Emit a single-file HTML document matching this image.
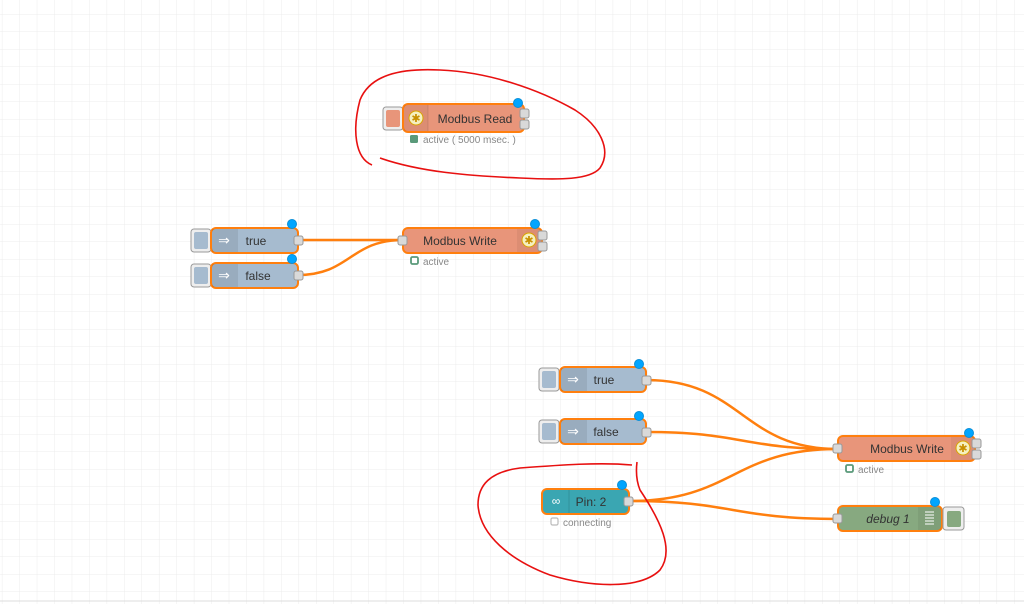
<!DOCTYPE html>
<html><head><meta charset="utf-8"><style>
html,body{margin:0;padding:0;background:#fff;}
svg text{font-family:"Liberation Sans",sans-serif;}
</style></head><body>
<svg width="1024" height="604" xmlns="http://www.w3.org/2000/svg">
<defs>
<pattern id="g" x="1.9" y="14" width="17.45" height="17.5" patternUnits="userSpaceOnUse">
<path d="M0 0H17.45M0 0V17.5" stroke="#ececec" stroke-width="1" fill="none"/>
</pattern>
</defs>
<rect width="1024" height="604" fill="url(#g)"/>
<line x1="0" y1="601" x2="1024" y2="601" stroke="#ddd"/>

<!-- wires -->
<g stroke="#ff7f0e" stroke-width="2.5" fill="none">
<path d="M298 240 C350 240 350 240 403 240"/>
<path d="M298 275 C350 275 350 240 403 240"/>
<path d="M646 380 C742 380 742 449 838 449"/>
<path d="M646 432 C742 432 742 449 838 449"/>
<path d="M629 501 C733 501 733 449 838 449"/>
<path d="M629 501 C733 501 733 519 838 519"/>
</g>

<!-- Modbus Read -->
<rect x="383" y="107" width="20" height="23" rx="3" fill="#eee" stroke="#999"/>
<rect x="386" y="110" width="14" height="17" rx="2" fill="#e8957a"/>
<rect x="403" y="104" width="121" height="28" rx="5" fill="#e8957a" stroke="#ff7f0e" stroke-width="2"/>
<rect x="404" y="105" width="24" height="26" fill="#000" fill-opacity="0.05"/>
<line x1="428" y1="105" x2="428" y2="131" stroke="#000" stroke-opacity="0.1"/>
<circle cx="416" cy="118" r="7" fill="#f5f0c0" stroke="#d9a400"/><text x="416" y="122" font-size="11" text-anchor="middle" fill="#c89000">✱</text>
<text x="475" y="123" font-size="12" text-anchor="middle" fill="#333">Modbus Read</text>
<rect x="520" y="109" width="9" height="9" rx="2" fill="#d9d9d9" stroke="#999"/>
<rect x="520" y="120" width="9" height="9" rx="2" fill="#d9d9d9" stroke="#999"/>
<circle cx="518" cy="103" r="4.5" fill="#00a5ff" stroke="#0a8fd8"/>
<rect x="410" y="135" width="8" height="8" rx="1.5" fill="#5a9a7a"/>
<text x="423" y="143" font-size="10" fill="#888">active ( 5000 msec. )</text>

<!-- inject true / false left -->
<g>
<rect x="191" y="229" width="20" height="23" rx="3" fill="#eee" stroke="#999"/>
<rect x="194" y="232" width="14" height="17" rx="2" fill="#a6bbcf"/>
<rect x="211" y="228" width="87" height="25" rx="5" fill="#a6bbcf" stroke="#ff7f0e" stroke-width="2"/>
<rect x="212" y="229" width="26" height="23" fill="#000" fill-opacity="0.08"/>
<text x="224" y="245" font-size="14" text-anchor="middle" fill="#fff">⇒</text>
<text x="256" y="245" font-size="12" text-anchor="middle" fill="#333">true</text>
<rect x="294" y="236" width="9" height="9" rx="2" fill="#d9d9d9" stroke="#999"/>
<circle cx="292" cy="224" r="4.5" fill="#00a5ff" stroke="#0a8fd8"/>

<rect x="191" y="264" width="20" height="23" rx="3" fill="#eee" stroke="#999"/>
<rect x="194" y="267" width="14" height="17" rx="2" fill="#a6bbcf"/>
<rect x="211" y="263" width="87" height="25" rx="5" fill="#a6bbcf" stroke="#ff7f0e" stroke-width="2"/>
<rect x="212" y="264" width="26" height="23" fill="#000" fill-opacity="0.08"/>
<text x="224" y="280" font-size="14" text-anchor="middle" fill="#fff">⇒</text>
<text x="258" y="280" font-size="12" text-anchor="middle" fill="#333">false</text>
<rect x="294" y="271" width="9" height="9" rx="2" fill="#d9d9d9" stroke="#999"/>
<circle cx="292" cy="259" r="4.5" fill="#00a5ff" stroke="#0a8fd8"/>
</g>

<!-- Modbus Write 1 -->
<rect x="403" y="228" width="139" height="25" rx="5" fill="#e8957a" stroke="#ff7f0e" stroke-width="2"/>
<rect x="517" y="229" width="24" height="23" fill="#000" fill-opacity="0.05"/>
<circle cx="529" cy="240" r="7" fill="#f5f0c0" stroke="#d9a400"/><text x="529" y="244" font-size="11" text-anchor="middle" fill="#c89000">✱</text>
<text x="460" y="245" font-size="12" text-anchor="middle" fill="#333">Modbus Write</text>
<rect x="398" y="236" width="9" height="9" rx="2" fill="#d9d9d9" stroke="#999"/>
<rect x="538" y="231" width="9" height="9" rx="2" fill="#d9d9d9" stroke="#999"/>
<rect x="538" y="242" width="9" height="9" rx="2" fill="#d9d9d9" stroke="#999"/>
<circle cx="535" cy="224" r="4.5" fill="#00a5ff" stroke="#0a8fd8"/>
<rect x="411" y="257" width="7" height="7" rx="1.5" fill="#fff" stroke="#5a9a7a" stroke-width="1.8"/>
<text x="423" y="265" font-size="10" fill="#888">active</text>

<!-- inject true / false right -->
<rect x="539" y="368" width="20" height="23" rx="3" fill="#eee" stroke="#999"/>
<rect x="542" y="371" width="14" height="17" rx="2" fill="#a6bbcf"/>
<rect x="560" y="367" width="86" height="25" rx="5" fill="#a6bbcf" stroke="#ff7f0e" stroke-width="2"/>
<rect x="561" y="368" width="26" height="23" fill="#000" fill-opacity="0.08"/>
<text x="573" y="384" font-size="14" text-anchor="middle" fill="#fff">⇒</text>
<text x="604" y="384" font-size="12" text-anchor="middle" fill="#333">true</text>
<rect x="642" y="376" width="9" height="9" rx="2" fill="#d9d9d9" stroke="#999"/>
<circle cx="639" cy="364" r="4.5" fill="#00a5ff" stroke="#0a8fd8"/>

<rect x="539" y="420" width="20" height="23" rx="3" fill="#eee" stroke="#999"/>
<rect x="542" y="423" width="14" height="17" rx="2" fill="#a6bbcf"/>
<rect x="560" y="419" width="86" height="25" rx="5" fill="#a6bbcf" stroke="#ff7f0e" stroke-width="2"/>
<rect x="561" y="420" width="26" height="23" fill="#000" fill-opacity="0.08"/>
<text x="573" y="436" font-size="14" text-anchor="middle" fill="#fff">⇒</text>
<text x="606" y="436" font-size="12" text-anchor="middle" fill="#333">false</text>
<rect x="642" y="428" width="9" height="9" rx="2" fill="#d9d9d9" stroke="#999"/>
<circle cx="639" cy="416" r="4.5" fill="#00a5ff" stroke="#0a8fd8"/>

<!-- Modbus Write 2 -->
<rect x="838" y="436" width="137" height="25" rx="5" fill="#e8957a" stroke="#ff7f0e" stroke-width="2"/>
<rect x="951" y="437" width="23" height="23" fill="#000" fill-opacity="0.05"/>
<circle cx="963" cy="448" r="7" fill="#f5f0c0" stroke="#d9a400"/><text x="963" y="452" font-size="11" text-anchor="middle" fill="#c89000">✱</text>
<text x="907" y="453" font-size="12" text-anchor="middle" fill="#333">Modbus Write</text>
<rect x="833" y="444" width="9" height="9" rx="2" fill="#d9d9d9" stroke="#999"/>
<rect x="972" y="439" width="9" height="9" rx="2" fill="#d9d9d9" stroke="#999"/>
<rect x="972" y="450" width="9" height="9" rx="2" fill="#d9d9d9" stroke="#999"/>
<circle cx="969" cy="433" r="4.5" fill="#00a5ff" stroke="#0a8fd8"/>
<rect x="846" y="465" width="7" height="7" rx="1.5" fill="#fff" stroke="#5a9a7a" stroke-width="1.8"/>
<text x="858" y="473" font-size="10" fill="#888">active</text>

<!-- Pin: 2 -->
<rect x="542" y="489" width="87" height="25" rx="5" fill="#3aa6b2" stroke="#ff7f0e" stroke-width="2"/>
<line x1="569" y1="490" x2="569" y2="513" stroke="#000" stroke-opacity="0.12"/>
<text x="556" y="505" font-size="12" text-anchor="middle" fill="#fff">∞</text>
<text x="591" y="506" font-size="12" text-anchor="middle" fill="#333">Pin: 2</text>
<rect x="624" y="497" width="9" height="9" rx="2" fill="#d9d9d9" stroke="#999"/>
<circle cx="622" cy="485" r="4.5" fill="#00a5ff" stroke="#0a8fd8"/>
<rect x="551" y="518" width="7" height="7" rx="1.5" fill="#fff" stroke="#bbb" stroke-width="1.2"/>
<text x="563" y="526" font-size="10" fill="#888">connecting</text>

<!-- debug 1 -->
<rect x="838" y="506" width="104" height="25" rx="5" fill="#87a980" stroke="#ff7f0e" stroke-width="2"/>
<rect x="918" y="507" width="23" height="23" fill="#000" fill-opacity="0.06"/>
<g stroke="#fff" stroke-width="1"><line x1="925" y1="512" x2="934" y2="512"/><line x1="925" y1="515" x2="934" y2="515"/><line x1="925" y1="518" x2="934" y2="518"/><line x1="925" y1="521" x2="934" y2="521"/><line x1="925" y1="524" x2="934" y2="524"/></g>
<text x="888" y="523" font-size="12" font-style="italic" text-anchor="middle" fill="#333">debug 1</text>
<rect x="833" y="514" width="9" height="9" rx="2" fill="#d9d9d9" stroke="#999"/>
<rect x="943" y="507" width="21" height="23" rx="3" fill="#eee" stroke="#999"/>
<rect x="947" y="511" width="14" height="16" rx="2" fill="#87a980"/>
<circle cx="935" cy="502" r="4.5" fill="#00a5ff" stroke="#0a8fd8"/>

<!-- red annotations -->
<g stroke="#e81010" stroke-width="1.6" fill="none">
<path d="M372 165 C355 158 352 130 360 100 C370 75 400 68 440 70 C490 72 540 90 575 110 C600 126 612 150 600 168 C590 180 560 180 520 178 C470 176 420 172 380 158"/>
<path d="M632 465 C600 462 560 465 520 468 C490 472 478 485 478 505 C480 535 510 560 550 575 C590 587 640 590 660 570 C675 550 660 520 640 490 C636 480 636 470 637 462"/>
</g>
</svg>
</body></html>
